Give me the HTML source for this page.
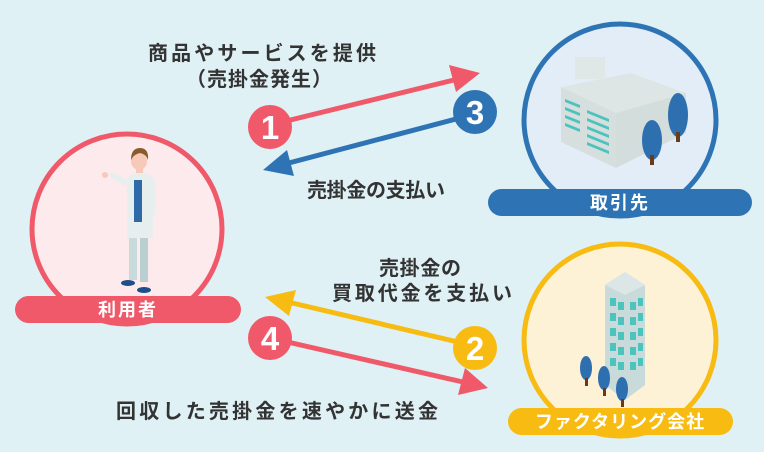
<!DOCTYPE html>
<html><head><meta charset="utf-8"><style>
html,body{margin:0;padding:0;background:#dff1f5;}
svg{display:block}
text{font-family:"Liberation Sans","Noto Sans CJK JP",sans-serif;font-weight:bold;}
</style></head><body>
<svg width="764" height="452" viewBox="0 0 764 452" xmlns="http://www.w3.org/2000/svg">
<rect width="764" height="452" fill="#dff1f5"/>
<!-- user circle -->
<circle cx="127" cy="229" r="95" fill="#fdeaec" stroke="#f0596a" stroke-width="5"/>
<g>
<ellipse cx="139" cy="161" rx="8" ry="9" fill="#f6c9b8"/>
<path d="M131 160 q0-12 9-12 q9 0 8 12 q-2-6-8-7 q-6 1-9 7z" fill="#8a5a2f"/>
<rect x="136" y="169" width="7" height="5" fill="#f6c9b8"/>
<path d="M127 178 l7-5 h12 l7 5 v60 h-26z" fill="#e7eeee"/>
<rect x="134" y="180" width="8" height="42" fill="#2f6aa8"/>
<path d="M127 180 l-16 -8 l-3 3 l18 12z" fill="#e7eeee"/>
<circle cx="105" cy="175" r="3" fill="#f6c9b8"/>
<rect x="150" y="180" width="5" height="35" fill="#e7eeee"/>
<rect x="129" y="238" width="8" height="42" fill="#c8dadb"/>
<rect x="140" y="238" width="8" height="44" fill="#b9cfd0"/>
<ellipse cx="128" cy="283" rx="7" ry="3" fill="#1f4f8a"/>
<ellipse cx="144" cy="290" rx="7" ry="3" fill="#1f4f8a"/>
</g>
<rect x="15" y="296" width="226" height="27" rx="13.5" fill="#f0596a"/>
<text x="128" y="316" fill="#fff" font-size="18" text-anchor="middle" letter-spacing="2">利用者</text>

<!-- business circle -->
<circle cx="620" cy="120" r="96" fill="#e3edf8" stroke="#2e74b5" stroke-width="5"/>
<path d="M561 87 l70 -14 l55 20 l-70 20z" fill="#dde6e5"/>
<path d="M561 87 l55 26 v55 l-55 -26z" fill="#d6dfde"/>
<path d="M616 113 l70 -20 v40 l-70 35z" fill="#d3dddc"/>
<rect x="575" y="57" width="30" height="22" fill="#dfe8e7"/>
<g fill="#4cc3bd">
<path d="M565 99 l15 6 v3 l-15 -6z"/><path d="M565 107 l15 6 v3 l-15 -6z"/><path d="M565 115 l15 6 v3 l-15 -6z"/><path d="M565 123 l15 6 v3 l-15 -6z"/>
<path d="M587 110 l22 9 v3 l-22 -9z"/><path d="M587 118 l22 9 v3 l-22 -9z"/><path d="M587 126 l22 9 v3 l-22 -9z"/><path d="M587 134 l22 9 v3 l-22 -9z"/><path d="M587 142 l22 9 v3 l-22 -9z"/>
</g>
<ellipse cx="652" cy="140" rx="10" ry="20" fill="#2e6fb0"/><rect x="650" y="155" width="4" height="10" fill="#6b3a1a"/>
<ellipse cx="678" cy="115" rx="10" ry="22" fill="#2e6fb0"/><rect x="676" y="132" width="4" height="10" fill="#6b3a1a"/>
<rect x="488" y="189" width="264" height="27" rx="13.5" fill="#2e74b5"/>
<text x="620" y="209" fill="#fff" font-size="18" text-anchor="middle" letter-spacing="2">取引先</text>

<!-- factoring circle -->
<circle cx="620" cy="340" r="96" fill="#fdf1d6" stroke="#f7bb12" stroke-width="5"/>
<path d="M605 285 l20 -13 l20 13 v100 l-20 15 l-20 -15z" fill="#c9dada"/>
<path d="M605 285 l20 -13 l20 13 l-20 10z" fill="#dce6e6"/>
<g fill="#4cc3bd">
<rect x="610" y="298" width="6" height="8"/><rect x="618" y="302" width="6" height="8"/><rect x="630" y="302" width="6" height="8"/><rect x="638" y="298" width="5" height="8"/>
<rect x="610" y="313" width="6" height="8"/><rect x="618" y="317" width="6" height="8"/><rect x="630" y="317" width="6" height="8"/><rect x="638" y="313" width="5" height="8"/>
<rect x="610" y="328" width="6" height="8"/><rect x="618" y="332" width="6" height="8"/><rect x="630" y="332" width="6" height="8"/><rect x="638" y="328" width="5" height="8"/>
<rect x="610" y="343" width="6" height="8"/><rect x="618" y="347" width="6" height="8"/><rect x="630" y="347" width="6" height="8"/><rect x="638" y="343" width="5" height="8"/>
<rect x="610" y="358" width="6" height="8"/><rect x="618" y="362" width="6" height="8"/><rect x="630" y="362" width="6" height="8"/><rect x="638" y="358" width="5" height="8"/>
</g>
<ellipse cx="586" cy="368" rx="6" ry="12" fill="#2e6fb0"/><rect x="585" y="378" width="3" height="8" fill="#6b3a1a"/>
<ellipse cx="604" cy="378" rx="6" ry="12" fill="#2e6fb0"/><rect x="603" y="388" width="3" height="8" fill="#6b3a1a"/>
<ellipse cx="622" cy="389" rx="6" ry="12" fill="#2e6fb0"/><rect x="621" y="399" width="3" height="8" fill="#6b3a1a"/>
<rect x="508" y="408" width="225" height="27" rx="13.5" fill="#f7bb12"/>
<text x="620" y="428" fill="#fff" font-size="18" text-anchor="middle" letter-spacing="1">ファクタリング会社</text>

<!-- arrows -->
<g stroke-width="5" stroke-linecap="butt">
<line x1="270" y1="125" x2="458" y2="79" stroke="#f0596a"/>
<line x1="475" y1="114" x2="285" y2="164" stroke="#2e74b5"/>
<line x1="475" y1="346" x2="288" y2="302" stroke="#f7bb12"/>
<line x1="270" y1="338" x2="463" y2="382" stroke="#f0596a"/>
</g>
<polygon points="480,73 449,65 456,92" fill="#f0596a"/>
<polygon points="263,170 287,150 294,176" fill="#2e74b5"/>
<polygon points="265,297 296,290 289,316" fill="#f7bb12"/>
<polygon points="488,388 458,395 465,368" fill="#f0596a"/>

<!-- badges -->
<g font-size="33" fill="#fff" text-anchor="middle">
<circle cx="270" cy="127" r="22" fill="#f0596a"/><text x="270" y="139">1</text>
<circle cx="475" cy="112" r="22" fill="#2e74b5"/><text x="475" y="124">3</text>
<circle cx="475" cy="348" r="22" fill="#f7bb12"/><text x="475" y="360">2</text>
<circle cx="270" cy="338" r="22" fill="#f0596a"/><text x="270" y="350">4</text>
</g>

<!-- labels -->
<g fill="#333" font-size="20">
<text x="148" y="60" textLength="228" lengthAdjust="spacing">商品やサービスを提供</text>
<text x="186" y="86" textLength="146" lengthAdjust="spacing">（売掛金発生）</text>
<text x="307" y="197" textLength="138" lengthAdjust="spacing">売掛金の支払い</text>
<text x="379" y="275" textLength="82" lengthAdjust="spacing">売掛金の</text>
<text x="332" y="300" textLength="180" lengthAdjust="spacing">買取代金を支払い</text>
<text x="116" y="418" textLength="322" lengthAdjust="spacing">回収した売掛金を速やかに送金</text>
</g>
</svg>
</body></html>
